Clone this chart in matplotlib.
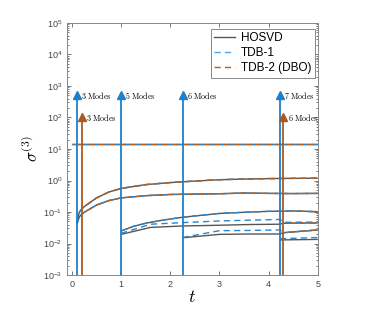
import matplotlib
matplotlib.use("Agg")
import matplotlib.pyplot as plt
import numpy as np
from matplotlib.ticker import LogLocator, NullFormatter, FixedLocator

plt.rcParams["font.family"] = ["Liberation Sans", "DejaVu Sans"]
plt.rcParams["mathtext.fontset"] = "cm"

# ---- data ----
t_full = [0.0, 5.0]
mode1 = [14.5, 14.5]

t_early = [0.1, 0.15, 0.2, 0.25, 0.5, 0.75, 1.0, 1.5, 2.0, 2.5, 3.0, 3.5, 4.0, 4.5, 5.0]
mode2 = [0.045, 0.098, 0.125, 0.148, 0.28, 0.43, 0.56, 0.74, 0.86, 0.96, 1.06, 1.11, 1.15, 1.17, 1.18]
mode3 = [0.04, 0.07, 0.085, 0.098, 0.166, 0.23, 0.28, 0.33, 0.36, 0.37, 0.38, 0.40, 0.39, 0.385, 0.39]

t_m4 = [1.0, 1.25, 1.5, 1.75, 2.0, 2.25, 2.5, 3.0, 3.5, 4.0, 4.5, 5.0]
mode4 = [0.025, 0.035, 0.044, 0.052, 0.06, 0.068, 0.075, 0.09, 0.098, 0.105, 0.108, 0.102]

t_m5 = [1.0, 1.6, 2.25, 3.0, 3.6, 4.23, 4.3, 5.0]
mode5_hosvd = [0.0195, 0.0325, 0.036, 0.038, 0.040, 0.041, 0.044, 0.045]
mode5_tdb1 = [0.021, 0.041, 0.046, 0.052, 0.055, 0.058, 0.047, 0.048]

t_m6 = [2.25, 3.0, 3.6, 4.23, 4.3, 5.0]
mode6_hosvd = [0.0152, 0.0195, 0.020, 0.020, 0.022, 0.027]
mode6_tdb1 = [0.0155, 0.0255, 0.026, 0.027, 0.022, 0.027]

t_m7 = [4.23, 5.0]
mode7_hosvd = [0.013, 0.0135]
mode7_tdb1 = [0.0142, 0.0155]

# mode-count events
tdb1_times = [0.1, 1.0, 2.25, 4.23]
tdb1_labels = ["3 Modes", "5 Modes", "6 Modes", "7 Modes"]
tdb2_times = [0.2, 4.3]
tdb2_labels = ["3 Modes", "6 Modes"]
tdb1_stem = 500
tdb2_stem = 100

c_gray = "#555555"
c_blue = "#2b86cc"
c_brown = "#b4601f"
c_stem_blue = "#1f7fc8"
c_stem_brown = "#a95a23"

fig = plt.figure(figsize=(3.71, 3.09), dpi=100)
ax = fig.add_axes([0.1806, 0.11, 0.676, 0.8156])

dash_b = (0, (4.5, 3))
dash_r = (3.5, (4.5, 3))


def draw(t, hos, tdb1, tdb2, t2_start=None):
    t = np.array(t)
    ax.plot(t, hos, color=c_gray, lw=1.0, solid_capstyle="butt")
    ax.plot(t, tdb1, color=c_blue, lw=1.0, linestyle=dash_b)
    if tdb2 is not None:
        m = t >= t2_start
        ax.plot(t[m], np.array(tdb2)[m], color=c_brown, lw=1.0, linestyle=dash_r)


draw(t_full, mode1, mode1, mode1, 0.0)
draw(t_early, mode2, mode2, mode2, 0.2)
draw(t_early, mode3, mode3, mode3, 0.2)
draw(t_m4, mode4, mode4, mode4, 4.3)
draw(t_m5, mode5_hosvd, mode5_tdb1, mode5_hosvd, 4.3)
draw(t_m6, mode6_hosvd, mode6_tdb1, mode6_hosvd, 4.3)
draw(t_m7, mode7_hosvd, mode7_tdb1, None)


def stems(times, labels, top, color):
    for tt, lab in zip(times, labels):
        ax.plot([tt, tt], [1e-3, top], color=color, lw=1.3)
        ax.plot([tt], [top], marker="^", ms=5.5, color=color)
        ax.annotate(r"$\mathrm{" + lab.replace(" ", r"\ ") + "}$", (tt, top),
                    xytext=(3, 0), textcoords="offset points",
                    fontsize=5.8, va="center", ha="left")


stems(tdb1_times, tdb1_labels, tdb1_stem, c_stem_blue)
stems(tdb2_times, tdb2_labels, tdb2_stem, c_stem_brown)

ax.set_yscale("log")
ax.set_xlim(-0.1, 5)
ax.set_ylim(1e-3, 1e5)
ax.xaxis.set_major_locator(FixedLocator([0, 1, 2, 3, 4, 5]))
ax.yaxis.set_major_locator(LogLocator(base=10, numticks=20))
ax.yaxis.set_minor_locator(LogLocator(base=10, subs=np.arange(2, 10), numticks=100))
ax.yaxis.set_minor_formatter(NullFormatter())
ax.tick_params(which="both", direction="in", top=True, right=True,
               colors="#444444", labelsize=6.5, width=0.5)
ax.tick_params(which="major", length=3)
ax.tick_params(which="minor", length=1.5)
for s in ax.spines.values():
    s.set_color("#888888")
    s.set_linewidth(0.7)

ax.set_xlabel(r"$t$", fontsize=13, labelpad=0)
ax.set_ylabel(r"$\sigma^{(3)}$", fontsize=12, labelpad=2)

h1, = ax.plot([], [], color=c_gray, lw=1.0)
h2, = ax.plot([], [], color="#4aa6e6", lw=1.0, linestyle=(0, (4.5, 3)))
h3, = ax.plot([], [], color=c_brown, lw=1.0, linestyle=(0, (4.5, 3)))
leg = ax.legend([h1, h2, h3], ["HOSVD", "TDB-1", "TDB-2 (DBO)"], loc="upper right",
                bbox_to_anchor=(0.99, 0.978), borderaxespad=0, fontsize=8.5,
                fancybox=False, framealpha=1, handlelength=1.8, handletextpad=0.5,
                borderpad=0.3, labelspacing=0.25)
leg.get_frame().set_edgecolor("#888888")
leg.get_frame().set_linewidth(0.7)

fig.savefig("out.png", dpi=100)
